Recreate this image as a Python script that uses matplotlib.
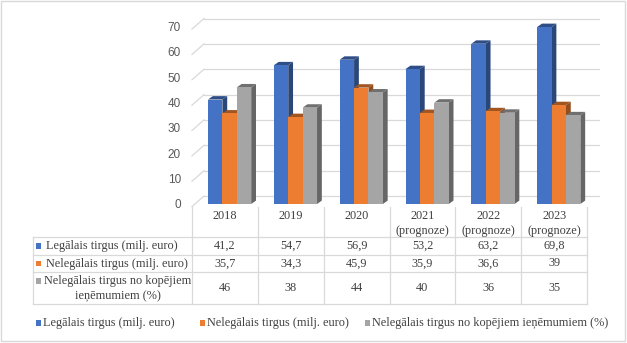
import numpy as np
import matplotlib.pyplot as plt
from matplotlib.patches import Rectangle, Polygon
from matplotlib.colors import to_rgb

years = ['2018', '2019', '2020', '2021', '2022', '2023']
year_notes = ['', '', '', '(prognoze)', '(prognoze)', '(prognoze)']
legal = [41.2, 54.7, 56.9, 53.2, 63.2, 69.8]
illegal = [35.7, 34.3, 45.9, 35.9, 36.6, 39]
share = [46, 38, 44, 40, 36, 35]
names = ['Legālais tirgus (milj. euro)',
         'Nelegālais tirgus (milj. euro)',
         'Nelegālais tirgus no kopējiem ieņēmumiem (%)']
colors = ['#4472C4', '#ED7D31', '#A5A5A5']
series = [legal, illegal, share]

W, H = 627, 343
fig = plt.figure(figsize=(W / 100, H / 100), dpi=100)


def fx(x):
    return x / W


def fy(y):
    return 1 - y / H


def shade(c, f):
    return tuple(v * f for v in to_rgb(c))


txt_col = '#404040'
grid_col = '#d9d9d9'
serif = 'Liberation Serif'
fs = 8.8

# plot area: front plane
left, right, bottom, top = 192, 587, 204, 26.5
ax = fig.add_axes([fx(left), fy(bottom), fx(right - left), (bottom - top) / H])
ax.set_xlim(0, 6)
ax.set_ylim(0, 70)
for s in ax.spines.values():
    s.set_visible(False)
ax.set_xticks([])
ax.set_yticks(range(0, 80, 10))
ax.tick_params(axis='y', length=0, pad=8, labelsize=8.5, labelcolor='#595959')
for lb in ax.get_yticklabels():
    lb.set_fontfamily('Liberation Sans')
ax.patch.set_alpha(0)

cw = (right - left) / 6          # pixels per category
uy = (bottom - top) / 70         # pixels per unit
wdx, wdy = 12 / cw, 8 / uy       # back wall offset
ddx, ddy = 4.8 / cw, 3.4 / uy    # bar depth

for v in range(0, 80, 10):
    ax.plot([wdx, 6 + wdx], [v + wdy, v + wdy], color=grid_col, lw=0.9,
            clip_on=False, zorder=0)
    ax.plot([0, wdx], [v - 1, v + wdy], color=grid_col, lw=0.9,
            clip_on=False, zorder=0)

bw = 14.4 / cw
off = 16 / cw
z = 2
for i in range(6):
    for k, vals in enumerate(series):
        v = vals[i]
        x0 = i + off + k * bw
        c = colors[k]
        ax.add_patch(Polygon([(x0 + bw, 0), (x0 + bw + ddx, ddy),
                              (x0 + bw + ddx, v + ddy), (x0 + bw, v)],
                             closed=True, fc=shade(c, 0.62), ec='none',
                             clip_on=False, zorder=z))
        ax.add_patch(Polygon([(x0, v), (x0 + bw, v), (x0 + bw + ddx, v + ddy),
                              (x0 + ddx, v + ddy)], closed=True,
                             fc=shade(c, 0.68), ec='none', clip_on=False, zorder=z))
        ax.add_patch(Rectangle((x0, 0), bw, v, fc=c, ec='none',
                               clip_on=False, zorder=z + 1))
        z += 2

# data table
def line(x1, y1, x2, y2):
    fig.add_artist(plt.Line2D([fx(x1), fx(x2)], [fy(y1), fy(y2)],
                              color=grid_col, lw=0.9))


tl = 33
rows = [237, 255, 272, 304]
for r in rows:
    line(tl, r, right, r)
line(tl, rows[0], tl, rows[-1])
for i in range(7):
    xc = left + i * cw
    line(xc, 207, xc, rows[-1])


def put(x, y, s, ha='center'):
    fig.text(fx(x), fy(y), s, ha=ha, va='center', fontsize=fs,
             family=serif, color=txt_col)


def marker(x, y, c):
    fig.add_artist(Rectangle((fx(x), fy(y + 2.6)), fx(5), 5.2 / H, fc=c,
                             ec='none', transform=fig.transFigure))


for i in range(6):
    xc = left + (i + 0.5) * cw
    put(xc, 216, years[i])
    if year_notes[i]:
        put(xc, 231, year_notes[i])

row_y = [246, 263.5, 288]
for k, vals in enumerate(series):
    for i, v in enumerate(vals):
        put(left + (i + 0.5) * cw, row_y[k], f'{v:g}'.replace('.', ','))

marker(36, row_y[0], colors[0])
put(46, row_y[0], names[0], ha='left')
marker(36, row_y[1], colors[1])
put(46, row_y[1], names[1], ha='left')
marker(36, 281, colors[2])
put(118, 281, 'Nelegālais tirgus no kopējiem')
put(118, 296, 'ieņēmumiem (%)')

# legend
leg_x = [36, 200, 365]
for k in range(3):
    marker(leg_x[k], 323, colors[k])
    put(leg_x[k] + 7, 323, names[k], ha='left')

fig.add_artist(Rectangle((fx(1), fy(341)), fx(624), 340 / H, fc='none',
                         ec=grid_col, lw=1, transform=fig.transFigure))

fig.savefig('out.png', dpi=100)
